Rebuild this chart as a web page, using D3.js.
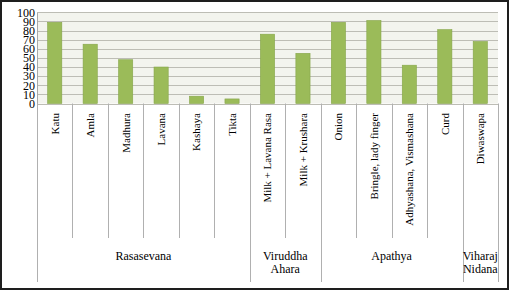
<!DOCTYPE html>
<html>
<head>
<meta charset="utf-8">
<script src="https://cdn.jsdelivr.net/npm/d3@7"></script>
<style>
  body { margin: 0; background: #fff; }
  svg { display: block; }
</style>
</head>
<body>
<svg id="chart" width="509" height="290"></svg>
<script>
// data
let categories = ["Katu", "Amla", "Madhura", "Lavana", "Kashaya", "Tikta",
  "Milk + Lavana Rasa", "Milk + Krushara",
  "Onion", "Bringle, lady finger", "Adhyashana, Vismashana", "Curd",
  "Diwaswapa"];
let values = [89, 65, 48, 40, 8, 5, 76, 55, 89, 91, 42, 81, 68];
let groupNames = [["Rasasevana"], ["Viruddha", "Ahara"], ["Apathya"], ["Viharaj", "Nidana"]];
let groupSizes = [6, 2, 4, 1];
let yTicks = d3.range(0, 101, 10);

let svg = d3.select("#chart");
let serif = "'Liberation Serif', 'DejaVu Serif', serif";

let x = d3.scaleBand().domain(categories).range([37, 498]);
let y = d3.scaleLinear().domain([0, 100]).range([103.5, 12.3]);
let step = x.step();

// plot background
svg.append("rect")
  .attr("x", 37).attr("y", y(100))
  .attr("width", 461).attr("height", y(0) - y(100))
  .attr("fill", "#f3f4ee");

// gridlines
svg.append("g")
  .selectAll("line")
  .data(yTicks).enter()
  .append("line")
  .attr("x1", 37).attr("x2", 498)
  .attr("y1", d => Math.round(y(d)) + 0.5)
  .attr("y2", d => Math.round(y(d)) + 0.5)
  .attr("stroke", "#bdbdb5");

// y axis
let yAxis = svg.append("g")
  .attr("transform", "translate(37,0)")
  .call(d3.axisLeft(y).tickValues(yTicks).tickSize(0).tickPadding(2));
yAxis.select(".domain").attr("stroke", "#a8a8a8");
yAxis.selectAll("text")
  .attr("font-family", serif)
  .attr("font-size", 12)
  .attr("fill", "#000");

// bars
svg.append("g")
  .selectAll("rect")
  .data(values).enter()
  .append("rect")
  .attr("x", (d, i) => x(categories[i]) + step * 0.3)
  .attr("width", step * 0.4)
  .attr("y", d => y(d))
  .attr("height", d => y(0) - y(d))
  .attr("fill", "#9bbb59")
  .attr("stroke", "#86a64a")
  .attr("stroke-width", 0.6);

// category separator lines, longer at group edges
let groupEdges = [0];
groupSizes.forEach(s => groupEdges.push(groupEdges[groupEdges.length - 1] + s));
svg.append("g")
  .selectAll("line")
  .data(d3.range(categories.length + 1)).enter()
  .append("line")
  .attr("x1", i => Math.round(37 + i * step) + 0.5)
  .attr("x2", i => Math.round(37 + i * step) + 0.5)
  .attr("y1", y(0))
  .attr("y2", i => groupEdges.includes(i) ? 282 : 238)
  .attr("stroke", "#b0b0b0");

// category labels (rotated)
svg.append("g")
  .selectAll("text")
  .data(categories).enter()
  .append("text")
  .attr("transform", d => `translate(${x(d) + step / 2},113) rotate(-90)`)
  .attr("text-anchor", "end")
  .attr("dy", "0.35em")
  .attr("font-family", serif)
  .attr("font-size", 11)
  .attr("fill", "#000")
  .text(d => d);

// group labels
let groups = svg.append("g")
  .selectAll("text")
  .data(groupNames).enter()
  .append("text")
  .attr("x", (d, i) => 37 + (groupEdges[i] + groupEdges[i + 1]) / 2 * step)
  .attr("y", 260)
  .attr("text-anchor", "middle")
  .attr("font-family", serif)
  .attr("font-size", 12)
  .attr("fill", "#000");
groups.each(function(d) {
  let t = d3.select(this);
  let cx = t.attr("x");
  d.forEach((line, j) => {
    t.append("tspan").attr("x", cx).attr("dy", j ? 12.5 : 0).text(line);
  });
});

// outer frame
svg.append("rect")
  .attr("x", 1).attr("y", 1)
  .attr("width", 507).attr("height", 288)
  .attr("fill", "none")
  .attr("stroke", "#1e1e1e")
  .attr("stroke-width", 2);
</script>
</body>
</html>
